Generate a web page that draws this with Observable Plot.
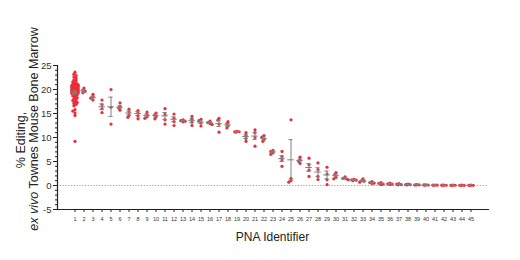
<!DOCTYPE html>
<html><head><meta charset="utf-8">
<script src="https://cdn.jsdelivr.net/npm/d3@7"></script>
<script src="https://cdn.jsdelivr.net/npm/@observablehq/plot@0.6"></script>
<style>body{margin:0;background:#fff}svg{display:block}</style>
</head><body><div id="chart"></div>
<script>
// PNA identifiers (categories)
const pna = ["1","2","3","4","5","6","7","8","9","10","11","12","13","14","15","16","17","18","19","20",
  "21","22","23","24","25","26","27","28","29","30","31","32","33","34","35","36","37","38","39","40",
  "41","42","43","44","45"];

// replicate % editing values per PNA
const replicates = [
  [23.6,23.2,22.9,22.6,22.3,22.0,21.8,21.6,21.4,21.2,21.1,21.0,20.9,20.8,20.7,20.6,20.5,20.4,20.3,20.2,
   20.1,20.0,19.9,19.8,19.7,19.6,19.5,19.4,19.3,19.2,19.0,18.9,18.7,18.5,18.3,18.1,17.9,17.7,17.5,17.3,
   17.1,16.9,16.6,15.8,15.5,15.1,14.6,9.2],
  [20.3,19.9,19.6,19.3],
  [19.0,18.5,18.2,17.8],
  [17.8,16.8,16.0,15.2],
  [20.0,16.3,12.8],
  [17.2,16.5,16.1,15.7],
  [15.9,15.3,14.6,14.2],
  [15.6,15.1,14.5,13.9],
  [15.3,14.8,14.3,14.0],
  [15.1,14.7,14.3,13.9],
  [16.0,14.8,13.7,12.8],
  [14.9,14.0,13.3,12.5],
  [13.7,13.5,13.4,13.3],
  [14.4,13.8,13.2,12.5],
  [13.8,13.5,13.0,12.4],
  [13.4,13.1,12.9,12.7],
  [14.0,13.6,12.8,11.1],
  [13.3,12.9,12.4,12.0],
  [11.3,11.2,11.2,11.1],
  [11.0,10.4,9.8,9.2],
  [11.6,11.0,10.0,8.2],
  [10.4,10.1,9.6,9.2],
  [7.3,7.1,6.8,6.5],
  [7.1,6.0,5.3,4.0],
  [13.7,1.5,1.0,0.7],
  [5.9,5.4,5.0,4.6],
  [5.7,4.3,3.2,1.9],
  [4.7,3.3,1.9,1.25],
  [3.8,2.4,1.2,0.2],
  [2.7,2.3,1.7,1.4],
  [1.8,1.5,1.4,1.2],
  [1.3,1.2,1.1,1.0],
  [1.4,1.0,0.9,0.7],
  [0.8,0.6,0.5,0.4],
  [0.6,0.45,0.3,0.2],
  [0.5,0.35,0.3,0.2],
  [0.4,0.3,0.2,0.15],
  [0.3,0.2,0.2,0.15],
  [0.2,0.15,0.15,0.1],
  [0.15,0.12,0.1,0.08],
  [0.1,0.08,0.07,0.05],
  [0.08,0.06,0.05,0.04],
  [0.07,0.05,0.05,0.04],
  [0.06,0.05,0.04,0.03],
  [0.06,0.05,0.04,0.03]
];

// group means and error bars
const means = [19.4,19.7,18.3,16.4,16.4,16.3,15.1,15.0,14.6,14.6,14.5,13.8,13.5,13.5,13.2,13.1,12.9,12.6,11.2,10.2,
  10.3,9.8,7.0,5.6,5.35,5.2,3.75,2.8,2.2,2.1,1.5,1.15,1.0,0.6,0.4,0.35,0.26,0.2,0.15,0.11,0.08,0.06,0.05,0.05,0.05];
const errs = [0.3,0.3,0.3,0.6,2.0,0.3,0.4,0.4,0.3,0.3,0.7,0.5,0.1,0.4,0.3,0.15,0.6,0.3,0.05,0.4,
  0.7,0.3,0.2,0.6,4.2,0.3,0.8,0.9,0.8,0.3,0.15,0.1,0.15,0.1,0.1,0.08,0.06,0.04,0.03,0.02,0.01,0.01,0.01,0.01,0.01];

const yTicks = [-5,0,5,10,15,20,25];
const yMinor = d3.range(-5, 26);

const W = 520, H = 260, mL = 57, mR = 32, mT = 65, mB = 51;
const yDom = [-5, 25];
const pxPerUnit = (H - mT - mB) / (yDom[1] - yDom[0]);

// simple deterministic beeswarm offsets (pixels) within each category
const pts = [];
pna.forEach((c, i) => {
  const placed = [];
  [...replicates[i]].sort((a, b) => b - a).forEach(v => {
    const cands = [0, -1.1, 1.1, -2.2, 2.2, -3.3, 3.3];
    let off = cands.find(o => placed.every(p => Math.hypot(p.off - o, (p.v - v) * pxPerUnit) >= 2.2));
    if (off === undefined) {
      // pick least-crowded candidate
      let best = 0, bestD = -1;
      for (const o of cands) {
        const dmin = Math.min(...placed.map(p => Math.hypot(p.off - o, (p.v - v) * pxPerUnit)));
        if (dmin > bestD) { bestD = dmin; best = o; }
      }
      off = best;
    }
    placed.push({v, off});
    pts.push({cat: c, v, off});
  });
});
const offs = [...new Set(pts.map(p => p.off))];
const summary = pna.map((c, i) => ({cat: c, mean: means[i], err: errs[i]}));

const red = "#ee2b36", gray = "#808080";

const svg = Plot.plot({
  width: W, height: H,
  marginLeft: mL, marginRight: mR, marginTop: mT, marginBottom: mB,
  style: {fontFamily: "Liberation Sans, Arial, sans-serif", background: "#fff", color: "#222"},
  x: {type: "band", domain: pna, paddingInner: 0, paddingOuter: 0.13, label: null},
  y: {domain: yDom, label: null},
  marks: [
    Plot.ruleY([0], {stroke: "#a0a0a0", strokeDasharray: "1.2,1.6", strokeWidth: 1}),
    ...offs.map(o => Plot.dot(pts.filter(p => p.off === o), {x: "cat", y: "v", dx: o, r: 1.6, fill: red, stroke: "none"})),
    Plot.ruleX(summary, {x: "cat", y1: d => d.mean - d.err, y2: d => d.mean + d.err, stroke: gray, strokeWidth: 1}),
    Plot.tickY(summary, {x: "cat", y: "mean", stroke: gray, strokeWidth: 1, insetLeft: 1.2, insetRight: 1.2}),
    Plot.tickY(summary, {x: "cat", y: d => d.mean + d.err, stroke: gray, strokeWidth: 1, insetLeft: 2.4, insetRight: 2.4}),
    Plot.tickY(summary, {x: "cat", y: d => d.mean - d.err, stroke: gray, strokeWidth: 1, insetLeft: 2.4, insetRight: 2.4}),
    Plot.axisY(yMinor, {tickSize: 2, tickFormat: () => "", stroke: "#222"}),
    Plot.axisY(yTicks, {tickSize: 4, tickPadding: 2, tickFormat: d => String(d), fontSize: 9.5, stroke: "#222", fill: "#333"}),
    Plot.axisX({tickSize: 3, tickPadding: 5, fontSize: 5.5, stroke: "#222", fill: "#333"}),
    Plot.frame({anchor: "bottom", stroke: "#222", strokeWidth: 1.2}),
    Plot.frame({anchor: "left", stroke: "#222", strokeWidth: 1.2})
  ]
});

const s = d3.select(svg);
s.append("text")
  .attr("transform", `translate(${(mL + W - mR) / 2},241)`)
  .attr("text-anchor", "middle")
  .attr("font-size", 12)
  .attr("fill", "#222")
  .text("PNA Identifier");

const yl = s.append("g").attr("font-size", 12.5).attr("fill", "#222").attr("text-anchor", "middle");
yl.append("text").attr("transform", `translate(25,140) rotate(-90)`).text("% Editing,");
const t2 = yl.append("text").attr("transform", `translate(37.5,129) rotate(-90)`);
t2.append("tspan").attr("font-style", "italic").text("ex vivo");
t2.append("tspan").text(" Townes Mouse Bone Marrow");

document.getElementById("chart").append(svg);
</script>
</body></html>
